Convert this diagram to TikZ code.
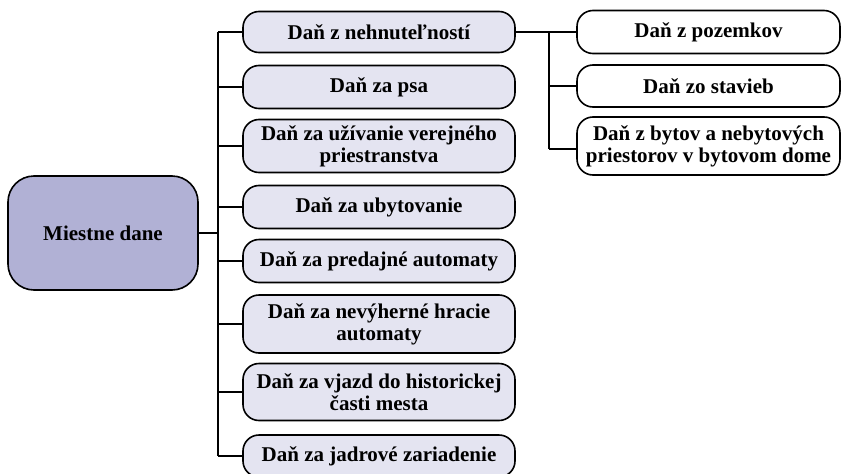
\documentclass[tikz,border=0pt]{standalone}
\usepackage{fontspec}
\setmainfont{Liberation Serif}
\usetikzlibrary{positioning}

\begin{document}
\begin{tikzpicture}[x=1pt, y=-1pt]
    % Define box sizes
    \def\childWidth{272pt}
    \def\subWidth{263pt}

    \definecolor{borderColour}{HTML}{000000}
    \definecolor{rootColour}{HTML}{B1B1D5}
    \definecolor{childColour}{HTML}{E4E4F1}

    \tikzset{
        taxBox/.style={draw=borderColour, line width=1.6pt, rounded corners=16pt,
            align=center, inner sep=1pt, font=\fontsize{21}{22}\selectfont\bfseries},
        childBox/.style={taxBox, fill=childColour, minimum width=\childWidth},
        subBox/.style={taxBox, fill=white, minimum width=\subWidth},
        link/.style={draw=borderColour, line width=1.6pt}
    }

    \useasboundingbox (0,0) rectangle (841,474);

    % Draw the root box
    \node[taxBox, fill=rootColour, rounded corners=26pt, minimum width=190pt,
        minimum height=114pt] (root) at (103,233) {Miestne dane};

    % Draw the children
    \foreach \i/\y/\h/\txt in {
        1/32/41/{Daň z nehnuteľností},
        2/87/43/{Daň za psa},
        3/146/53/{Daň za užívanie verejného\\priestranstva},
        4/207/43/{Daň za ubytovanie},
        5/261/43/{Daň za predajné automaty},
        6/324/58/{Daň za nevýherné hracie\\automaty},
        7/392/57/{Daň za vjazd do historickej\\časti mesta},
        8/456/42/{Daň za jadrové zariadenie}}
        \node[childBox, minimum height=\h pt] (child\i) at (379,\y) {\txt};

    % Draw the sub boxes of the first child
    \foreach \i/\y/\h/\txt in {
        1/32/43/{Daň z pozemkov},
        2/86/42/{Daň zo stavieb},
        3/146/58/{Daň z bytov a nebytových\\priestorov v bytovom dome}}
        \node[subBox, minimum height=\h pt] (sub\i) at (708.5,\y) {\txt};

    % Define the trunks
    \coordinate (trunk) at (218,0);
    \coordinate (subTrunk) at (549,0);

    % Draw the connectors
    \draw[link] (root.east) -- (root.east -| trunk);
    \draw[link] (child1.west -| trunk) -- (child8.west -| trunk);
    \foreach \i in {1,...,8}
        \draw[link] (child\i.west -| trunk) -- (child\i.west);

    \draw[link] (child1.east) -- (sub1.west);
    \draw[link] (sub1.west -| subTrunk) -- ([yshift=-3pt]sub3.west -| subTrunk);
    \draw[link] (sub2.west -| subTrunk) -- (sub2.west);
    \draw[link] ([yshift=-3pt]sub3.west -| subTrunk) -- ([yshift=-3pt]sub3.west);

\end{tikzpicture}
\end{document}
